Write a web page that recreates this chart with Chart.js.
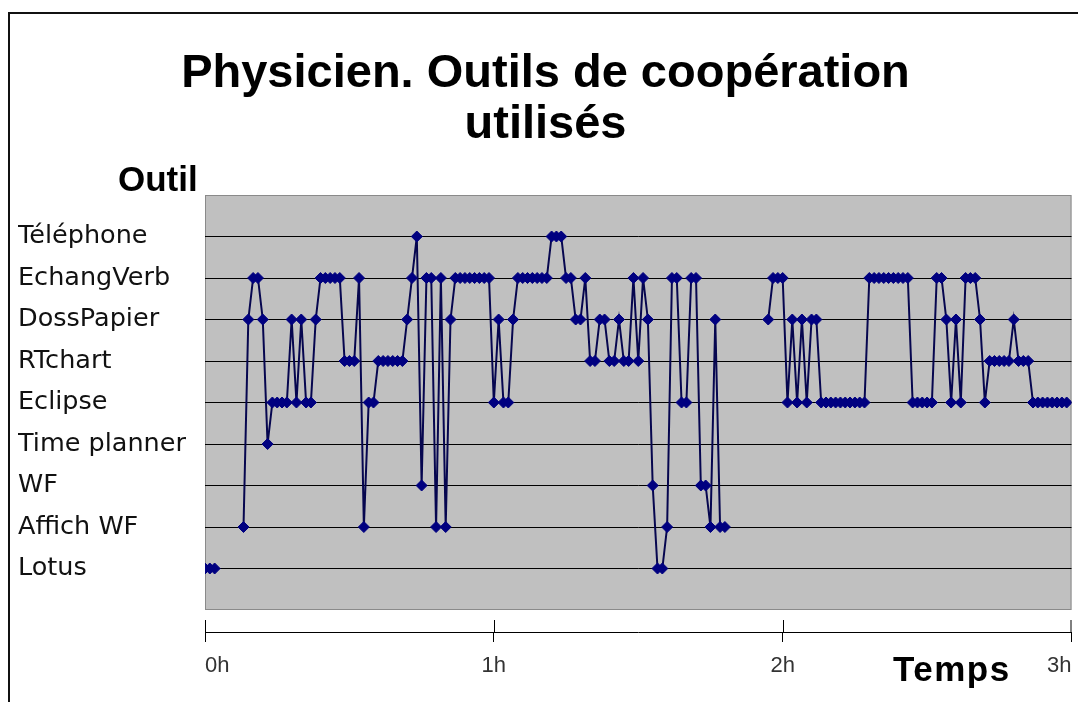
<!DOCTYPE html>
<html>
<head>
<meta charset="utf-8">
<script src="https://cdn.jsdelivr.net/npm/chart.js@4.4.0/dist/chart.umd.min.js"></script>
<style>
    body { margin: 0; background: #fff; overflow: hidden; }
    #wrap { position: relative; width: 1078px; height: 702px; overflow: hidden; }
    #frame { position: absolute; left: 8px; top: 12px; width: 1200px; height: 900px; border: 2px solid #111; }
    canvas { position: absolute; left: 0; top: 0; }
    .lbl { position: absolute; font: bold 35px 'Liberation Sans', Arial, sans-serif; line-height: 35px; color: #000; }
</style>
</head>
<body>
<div id="wrap">
    <div id="frame"></div>
    <canvas id="toolChart" width="1078" height="702"></canvas>
    <div class="lbl" style="left:118px;top:161px">Outil</div>
    <div class="lbl" style="left:893px;top:651px;letter-spacing:1.5px">Temps</div>
</div>
<script>
const toolLabels = ['Lotus', 'Affich WF', 'WF', 'Time planner', 'Eclipse', 'RTchart', 'DossPapier', 'EchangVerb', 'Téléphone'];
const hourTicks = ['0h', '1h', '2h', '3h'];

// one reading per minute: 1 = Lotus ... 9 = Téléphone, null = nothing noted
const toolPerMinute = [
    1, 1, 1, null, null, null, null, null, 2, 7,
    8, 8, 7, 4, 5, 5, 5, 5, 7, 5,
    7, 5, 5, 7, 8, 8, 8, 8, 8, 6,
    6, 6, 8, 2, 5, 5, 6, 6, 6, 6,
    6, 6, 7, 8, 9, 3, 8, 8, 2, 8,
    2, 7, 8, 8, 8, 8, 8, 8, 8, 8,
    5, 7, 5, 5, 7, 8, 8, 8, 8, 8,
    8, 8, 9, 9, 9, 8, 8, 7, 7, 8,
    6, 6, 7, 7, 6, 6, 7, 6, 6, 8,
    6, 8, 7, 3, 1, 1, 2, 8, 8, 5,
    5, 8, 8, 3, 3, 2, 7, 2, 2, null,
    null, null, null, null, null, null, null, 7, 8, 8,
    8, 5, 7, 5, 7, 5, 7, 7, 5, 5,
    5, 5, 5, 5, 5, 5, 5, 5, 8, 8,
    8, 8, 8, 8, 8, 8, 8, 5, 5, 5,
    5, 5, 8, 8, 7, 5, 7, 5, 8, 8,
    8, 7, 5, 6, 6, 6, 6, 6, 7, 6,
    6, 6, 5, 5, 5, 5, 5, 5, 5, 5,
];

const plotBackground = {
    id: 'plotBackground',
    beforeDraw: (chart) => {
        const { ctx, chartArea, scales } = chart;
        const top = scales.y.getPixelForValue(10);
        const bottom = scales.y.getPixelForValue(0);
        ctx.save();
        ctx.fillStyle = '#c0c0c0';
        ctx.fillRect(chartArea.left, top, chartArea.right - chartArea.left, bottom - top);
        ctx.strokeStyle = '#8a8a8a';
        ctx.lineWidth = 1;
        ctx.strokeRect(chartArea.left + 0.5, top + 0.5, chartArea.right - chartArea.left - 1, bottom - top - 1);
        ctx.restore();
    },
    afterDraw: (chart) => {
        // time ticks cross the axis line
        const { ctx, chartArea, scales } = chart;
        ctx.save();
        ctx.strokeStyle = '#000';
        ctx.lineWidth = 1;
        for (const t of scales.x.ticks) {
            const x = Math.min(Math.round(scales.x.getPixelForValue(t.value)), chartArea.right - 1) + 0.5;
            ctx.beginPath();
            ctx.moveTo(x, chartArea.bottom - 12);
            ctx.lineTo(x, chartArea.bottom);
            ctx.stroke();
        }
        ctx.restore();
    },
};

new Chart(document.getElementById('toolChart'), {
    type: 'line',
    data: {
        datasets: [
            {
                data: toolPerMinute.map((v, i) => ({ x: i, y: v })),
                borderColor: '#06064f',
                borderWidth: 2,
                pointStyle: 'rectRot',
                pointRadius: 5.5,
                pointBackgroundColor: '#000080',
                pointBorderColor: '#000080',
                pointBorderWidth: 1,
                spanGaps: false,
                tension: 0,
            },
        ],
    },
    options: {
        responsive: false,
        animation: false,
        layout: { padding: { left: 18, right: 5, top: 0, bottom: 0 } },
        plugins: {
            legend: { display: false },
            tooltip: { enabled: false },
            title: {
                display: true,
                text: ['Physicien. Outils de coopération', 'utilisés'],
                color: '#000',
                font: { family: "'Liberation Sans', Arial, sans-serif", size: 47, weight: 'bold', lineHeight: 51 / 47 },
                padding: { top: 49, bottom: 44 },
            },
        },
        scales: {
            x: {
                type: 'linear',
                min: 0,
                max: 180,
                afterFit: (axis) => { axis.height = 70; },
                grid: { drawOnChartArea: false, drawTicks: true, tickLength: 10, color: '#000' },
                border: { display: true, color: '#000', width: 1 },
                ticks: {
                    stepSize: 60,
                    align: 'inner',
                    padding: 0,
                    maxRotation: 0,
                    color: '#333',
                    font: { family: "'Liberation Sans Narrow', 'Liberation Sans', Arial, sans-serif", size: 22, lineHeight: 2.2 },
                    callback: (v) => hourTicks[v / 60],
                },
            },
            y: {
                min: -0.53,
                max: 10,
                afterFit: (axis) => { axis.width = 187; },
                afterBuildTicks: (axis) => {
                    axis.ticks = toolLabels.map((_, i) => ({ value: i + 1 }));
                },
                grid: { color: '#000', lineWidth: 1, drawTicks: false },
                border: { display: false },
                ticks: {
                    crossAlign: 'far',
                    autoSkip: false,
                    color: '#111',
                    font: { family: "'DejaVu Sans', sans-serif", size: 25.5 },
                    callback: (v) => toolLabels[v - 1],
                },
            },
        },
    },
    plugins: [plotBackground],
});
</script>
</body>
</html>
